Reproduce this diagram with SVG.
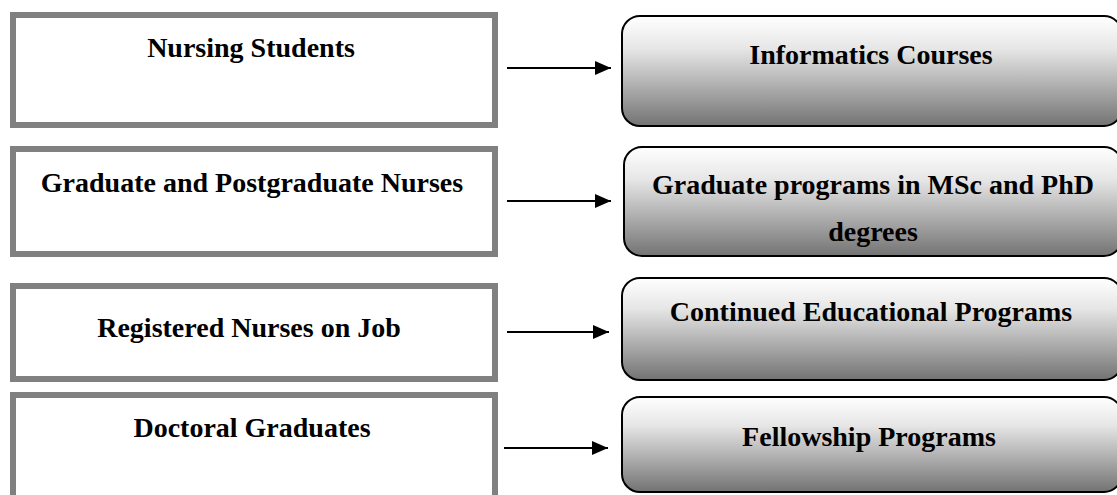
<svg xmlns="http://www.w3.org/2000/svg" width="1117" height="495" viewBox="0 0 1117 495">
<defs>
<linearGradient id="g" x1="0" y1="0" x2="0" y2="1">
<stop offset="0" stop-color="#ffffff"/>
<stop offset="0.3" stop-color="#e6e6e6"/>
<stop offset="1" stop-color="#737373"/>
</linearGradient>
<marker id="ah" markerWidth="16" markerHeight="14" refX="16" refY="7" orient="auto" markerUnits="userSpaceOnUse">
<path d="M0,0 L16,7 L0,14 Z" fill="#000"/>
</marker>
<style>
.src{fill:#fff;stroke:#808080;stroke-width:6}
.dst{fill:url(#g);stroke:#000;stroke-width:2}
.t{font-family:"Liberation Serif","Times New Roman",serif;font-weight:bold;font-size:28px;fill:#000;text-anchor:middle}
.c{stroke:#000;stroke-width:2;fill:none;marker-end:url(#ah)}
</style>
</defs>
<rect width="1117" height="495" fill="#fff"/>
<g id="n1"><rect class="src" x="13" y="15" width="482" height="110"/><text class="t" x="251" y="57">Nursing Students</text></g>
<g id="n2"><rect class="src" x="13" y="149" width="482" height="105"/><text class="t" x="252" y="192">Graduate and Postgraduate Nurses</text></g>
<g id="n3"><rect class="src" x="13" y="286" width="482" height="93"/><text class="t" x="249" y="337">Registered Nurses on Job</text></g>
<g id="n4"><rect class="src" x="13" y="395" width="482" height="110"/><text class="t" x="252" y="437">Doctoral Graduates</text></g>
<g id="m1"><rect class="dst" x="622" y="16" width="500" height="110" rx="18"/><text class="t" x="871" y="64">Informatics Courses</text></g>
<g id="m2"><rect class="dst" x="624" y="147" width="498" height="109" rx="18"/><text class="t" x="873" y="194">Graduate programs in MSc and PhD</text><text class="t" x="873" y="241">degrees</text></g>
<g id="m3"><rect class="dst" x="622" y="278" width="500" height="102" rx="18"/><text class="t" x="871" y="321">Continued Educational Programs</text></g>
<g id="m4"><rect class="dst" x="622" y="397" width="500" height="95" rx="18"/><text class="t" x="869" y="446">Fellowship Programs</text></g>
<g id="connectors">
<line class="c" x1="507" y1="68" x2="611" y2="68"/>
<line class="c" x1="507" y1="201" x2="611" y2="201"/>
<line class="c" x1="507" y1="332" x2="609" y2="332"/>
<line class="c" x1="504" y1="448" x2="608" y2="448"/>
</g>
</svg>
